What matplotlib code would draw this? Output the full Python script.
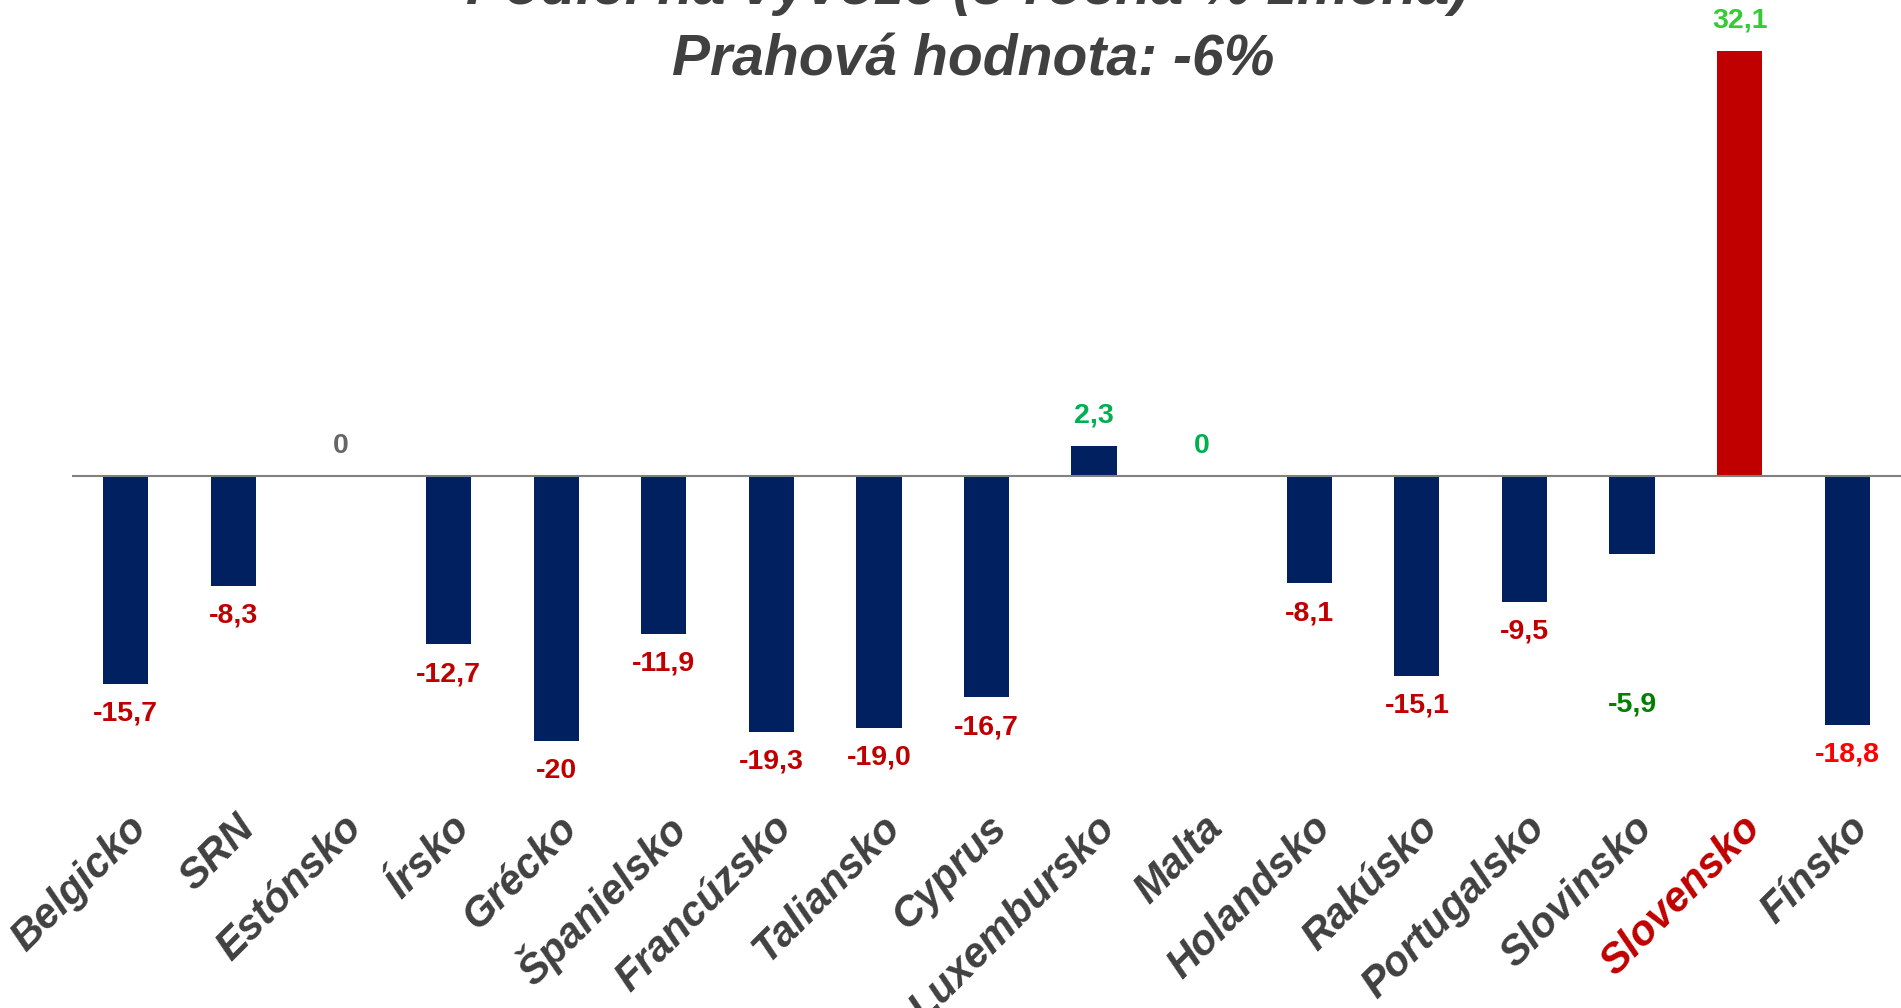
import matplotlib
matplotlib.use("Agg")
import matplotlib.pyplot as plt

countries = ["Belgicko", "SRN", "Estónsko", "Írsko", "Grécko", "Španielsko",
             "Francúzsko", "Taliansko", "Cyprus", "Luxembursko", "Malta",
             "Holandsko", "Rakúsko", "Portugalsko", "Slovinsko", "Slovensko", "Fínsko"]
values = [-15.7, -8.3, 0.0, -12.7, -20.0, -11.9, -19.3, -19.0, -16.7, 2.3, 0.0,
          -8.1, -15.1, -9.5, -5.9, 32.1, -18.8]
value_texts = ["-15,7", "-8,3", "0", "-12,7", "-20", "-11,9", "-19,3", "-19,0",
               "-16,7", "2,3", "0", "-8,1", "-15,1", "-9,5", "-5,9", "32,1", "-18,8"]
title_line1 = "Podiel na vývoze (5-ročná % zmena)"
title_line2 = "Prahová hodnota: -6%"

# styles
NAVY = "#002060"
DARKRED = "#C00000"
bar_colors = [DARKRED if c == "Slovensko" else NAVY for c in countries]
label_colors = ["#C00000", "#C00000", "#666666", "#C00000", "#C00000", "#C00000",
                "#C00000", "#C00000", "#C00000", "#00B050", "#00B050", "#C00000",
                "#C00000", "#C00000", "#008000", "#33CC33", "#FF0000"]
# extra downward shift (pixels) of value labels
label_extra = [0] * len(countries)
label_extra[countries.index("Slovinsko")] = 120

W, H = 1901, 1008
fig = plt.figure(figsize=(W / 100, H / 100), dpi=100)
fam = ["Liberation Sans", "DejaVu Sans"]
ax = fig.add_axes([72 / W, 0, 1 - 72 / W, 1])
ppu = 13.24  # pixels per unit
zero_px = 476
ax.set_ylim(-(H - zero_px) / ppu, zero_px / ppu)
ax.set_xlim(-0.5, len(countries) - 0.5)
ax.axis("off")

x = list(range(len(countries)))
ax.bar(x, values, width=0.42, color=bar_colors, zorder=2)
ax.axhline(0, color="#808080", lw=1.5, zorder=3)

for i, (v, t, c) in enumerate(zip(values, value_texts, label_colors)):
    if v >= 0:
        off = 30
    else:
        off = -30 - label_extra[i]
    ax.annotate(t, (i, v), xytext=(0, off), textcoords="offset pixels",
                ha="center", va="center", fontsize=20.5, fontweight="bold",
                color=c, family=fam)

for i, name in enumerate(countries):
    col = DARKRED if name == "Slovensko" else "#404040"
    ax.text(i + 0.14, 1 - 822 / H, name, transform=ax.get_xaxis_transform(),
            rotation=45, rotation_mode="anchor", ha="right", va="center",
            fontsize=30, fontweight="bold", fontstyle="italic", color=col,
            family=fam)

fig.text(967 / W, 1 - 4 / H, title_line1, ha="center", va="baseline",
         fontsize=42, fontweight="bold", fontstyle="italic", color="#404040",
         family=fam)
fig.text(973 / W, 1 - 76 / H, title_line2, ha="center", va="baseline",
         fontsize=41, fontweight="bold", fontstyle="italic", color="#404040",
         family=fam)

fig.savefig("out.png", dpi=100)
